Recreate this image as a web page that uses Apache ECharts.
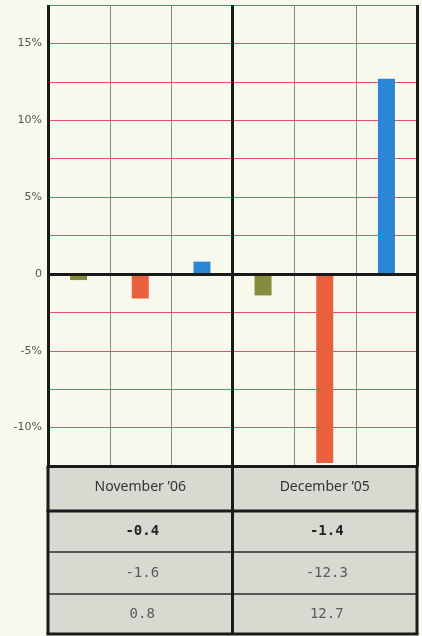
<!DOCTYPE html>
<html>
<head>
<meta charset="utf-8">
<script src="https://cdn.jsdelivr.net/npm/echarts@6/dist/echarts.min.js"></script>
<style>
  html, body { margin: 0; padding: 0; background: #f8f8ec; }
  #chart { width: 422px; height: 636px; }
</style>
</head>
<body>
<div id="chart"></div>
<script>
// Periods compared and the three percentage changes for each one
const periods = ['November ’06', 'December ’05'];
const changeFirst = [-0.4, -1.4];
const changeSecond = [-1.6, -12.3];
const changeThird = [0.8, 12.7];
const seriesNames = ['First', 'Second', 'Third'];
const seriesColors = ['#858c3c', '#e8603e', '#2a86d4'];
const seriesValues = [changeFirst, changeSecond, changeThird];

// value axis range and steps
const yMin = -12.5, yMax = 17.5, yStep = 2.5;

const GRID = { left: 48, right: 5, top: 5, bottom: 170 };
const W = 422, H = 636;
const plotBottom = H - GRID.bottom;
const tableBottom = 634;
const headerBottom = 511;
const rowLines = [552, 594];
const rowCenters = [531, 573, 614];

const chart = echarts.init(document.getElementById('chart'), null, { renderer: 'canvas' });

const series = seriesValues.map((vals, i) => ({
  name: seriesNames[i],
  type: 'bar',
  data: vals,
  barWidth: 17,
  barGap: '263%',
  itemStyle: { color: seriesColors[i] },
  z: 3,
  markLine: i === 0 ? {
    silent: true,
    symbol: 'none',
    label: { show: false },
    lineStyle: { color: '#1a1a1a', width: 3, type: 'solid' },
    data: [{ yAxis: 0 }],
    z: 4
  } : undefined
}));

chart.setOption({
  backgroundColor: '#f8f8ec',
  animation: false,
  grid: GRID,
  xAxis: {
    type: 'category',
    data: periods,
    position: 'bottom',
    z: 3,
    axisLine: { onZero: false, lineStyle: { color: '#1a1a1a', width: 3 } },
    axisTick: { show: false },
    axisLabel: {
      margin: 14,
      color: '#333',
      fontFamily: 'Noto Sans',
      fontSize: 14
    },
    splitLine: { show: true, lineStyle: { color: '#1a1a1a', width: 3 } }
  },
  yAxis: {
    type: 'value',
    min: yMin,
    max: yMax,
    interval: yStep,
    z: 2,
    axisLine: { show: false },
    axisTick: { show: false },
    axisLabel: {
      margin: 6,
      color: '#555',
      fontFamily: 'DejaVu Sans',
      fontSize: 11,
      formatter: v => (Math.abs(v % 5) < 1e-9) ? (v === 0 ? '0' : v + '%') : ''
    },
    splitLine: { show: true, lineStyle: { color: '#e04e68', width: 1.2 } }
  },
  series: series
});

const xLeft = GRID.left;
const xRight = W - GRID.right;
const xMid = (xLeft + xRight) / 2;
const graphics = [];

// Thin dividers between the bar columns inside each period band
const band = (xRight - xLeft) / periods.length;
const slot = band / seriesNames.length;
periods.forEach((p, pi) => {
  for (let k = 1; k < seriesNames.length; k++) {
    const x = Math.round(xLeft + pi * band + k * slot) + 0.5;
    graphics.push({
      type: 'line', z: 0, silent: true,
      shape: { x1: x, y1: GRID.top, x2: x, y2: plotBottom },
      style: { stroke: '#8a8a86', lineWidth: 1 }
    });
  }
});

// Data table under the plot: one column per period, one row per series
graphics.push({
  type: 'rect', z: 0,
  shape: { x: xLeft, y: plotBottom, width: xRight - xLeft, height: tableBottom - plotBottom },
  style: { fill: '#d9d9d1' }
});
[headerBottom, tableBottom].forEach(y => graphics.push({
  type: 'line', z: 5,
  shape: { x1: xLeft - 1.5, y1: y, x2: xRight + 1.5, y2: y },
  style: { stroke: '#1a1a1a', lineWidth: 3 }
}));
rowLines.forEach(y => graphics.push({
  type: 'line', z: 5,
  shape: { x1: xLeft, y1: y, x2: xRight, y2: y },
  style: { stroke: '#2a2a2a', lineWidth: 1.5 }
}));
[xLeft, xMid, xRight].forEach(x => graphics.push({
  type: 'line', z: 6,
  shape: { x1: x, y1: plotBottom, x2: x, y2: tableBottom },
  style: { stroke: '#1a1a1a', lineWidth: 3 }
}));
periods.forEach((p, pi) => {
  const cx = chart.convertToPixel({ xAxisIndex: 0 }, p);
  seriesValues.forEach((vals, si) => {
    graphics.push({
      type: 'text', z: 7,
      x: cx + 2, y: rowCenters[si],
      style: {
        text: vals[pi].toFixed(1),
        fill: si === 0 ? '#222' : '#5a5a5a',
        font: (si === 0 ? 'bold ' : '') + '14px "DejaVu Sans Mono"',
        align: 'center',
        verticalAlign: 'middle'
      }
    });
  });
});
chart.setOption({ graphic: graphics });
</script>
</body>
</html>
